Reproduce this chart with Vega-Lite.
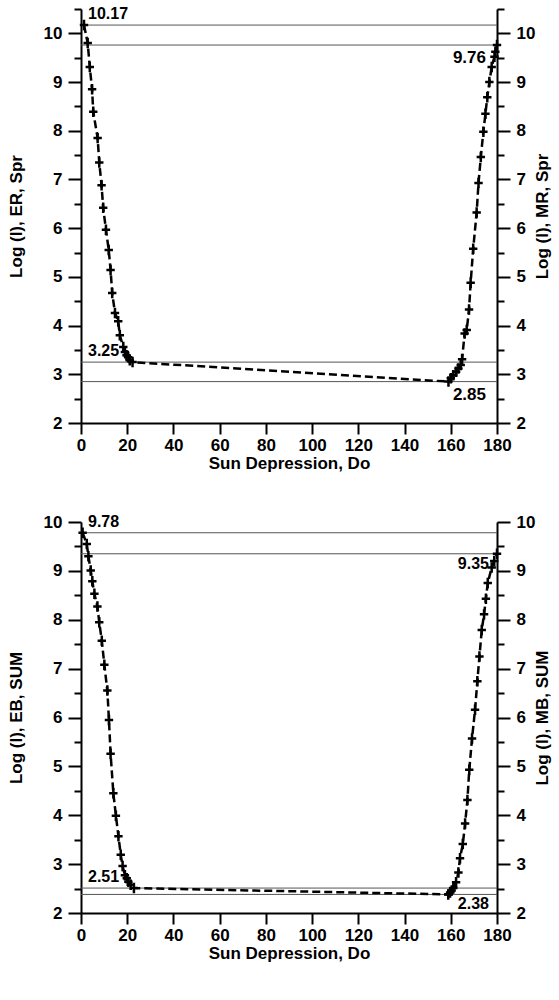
{
  "$schema": "https://vega.github.io/schema/vega-lite/v6.json",
  "padding": {"left": 7, "top": 0, "right": 7, "bottom": 5},
  "bounds": "flush",
  "spacing": 99,
  "config": {
    "view": {"stroke": null},
    "axis": {
      "grid": false,
      "domainColor": "#000",
      "domainWidth": 2,
      "tickColor": "#000",
      "tickWidth": 2,
      "labelFont": "Liberation Sans",
      "labelFontWeight": "bold",
      "labelFontSize": 17,
      "labelColor": "#000",
      "labelPadding": 6,
      "labelFlush": false,
      "labelOverlap": false,
      "titleFont": "Liberation Sans",
      "titleFontWeight": "bold",
      "titleFontSize": 17,
      "titleColor": "#000"
    }
  },
  "datasets": {
    "spr": [
      {"branch": "ER", "d": 1.3, "logI": 10.17},
      {"branch": "ER", "d": 2.9, "logI": 9.80},
      {"branch": "ER", "d": 3.8, "logI": 9.31},
      {"branch": "ER", "d": 4.8, "logI": 8.85},
      {"branch": "ER", "d": 5.3, "logI": 8.39},
      {"branch": "ER", "d": 7.2, "logI": 7.85},
      {"branch": "ER", "d": 7.9, "logI": 7.35},
      {"branch": "ER", "d": 8.9, "logI": 6.88},
      {"branch": "ER", "d": 9.6, "logI": 6.42},
      {"branch": "ER", "d": 10.8, "logI": 5.97},
      {"branch": "ER", "d": 12.0, "logI": 5.55},
      {"branch": "ER", "d": 12.8, "logI": 5.14},
      {"branch": "ER", "d": 13.5, "logI": 4.67},
      {"branch": "ER", "d": 14.7, "logI": 4.26},
      {"branch": "ER", "d": 16.1, "logI": 4.09},
      {"branch": "ER", "d": 16.8, "logI": 3.80},
      {"branch": "ER", "d": 18.3, "logI": 3.56},
      {"branch": "ER", "d": 19.0, "logI": 3.46},
      {"branch": "ER", "d": 19.7, "logI": 3.39},
      {"branch": "ER", "d": 20.4, "logI": 3.35},
      {"branch": "ER", "d": 21.1, "logI": 3.29},
      {"branch": "ER", "d": 22.3, "logI": 3.25},
      {"branch": "MR", "d": 159.0, "logI": 2.85},
      {"branch": "MR", "d": 160.0, "logI": 2.92},
      {"branch": "MR", "d": 161.1, "logI": 2.98},
      {"branch": "MR", "d": 162.3, "logI": 3.05},
      {"branch": "MR", "d": 163.3, "logI": 3.12},
      {"branch": "MR", "d": 164.3, "logI": 3.19},
      {"branch": "MR", "d": 164.9, "logI": 3.31},
      {"branch": "MR", "d": 166.0, "logI": 3.84},
      {"branch": "MR", "d": 166.9, "logI": 3.91},
      {"branch": "MR", "d": 167.9, "logI": 4.33},
      {"branch": "MR", "d": 168.6, "logI": 4.88},
      {"branch": "MR", "d": 169.7, "logI": 5.58},
      {"branch": "MR", "d": 171.2, "logI": 6.32},
      {"branch": "MR", "d": 172.0, "logI": 6.93},
      {"branch": "MR", "d": 173.0, "logI": 7.46},
      {"branch": "MR", "d": 174.1, "logI": 7.98},
      {"branch": "MR", "d": 175.0, "logI": 8.35},
      {"branch": "MR", "d": 175.8, "logI": 8.69},
      {"branch": "MR", "d": 176.7, "logI": 9.00},
      {"branch": "MR", "d": 177.7, "logI": 9.31},
      {"branch": "MR", "d": 178.9, "logI": 9.52},
      {"branch": "MR", "d": 179.3, "logI": 9.62},
      {"branch": "MR", "d": 180.0, "logI": 9.76}
    ],
    "sum": [
      {"branch": "EB", "d": 0.7, "logI": 9.78},
      {"branch": "EB", "d": 2.5, "logI": 9.55},
      {"branch": "EB", "d": 3.2, "logI": 9.30},
      {"branch": "EB", "d": 4.2, "logI": 9.01},
      {"branch": "EB", "d": 4.9, "logI": 8.79},
      {"branch": "EB", "d": 5.8, "logI": 8.53},
      {"branch": "EB", "d": 7.1, "logI": 8.27},
      {"branch": "EB", "d": 7.9, "logI": 7.95},
      {"branch": "EB", "d": 9.0, "logI": 7.57},
      {"branch": "EB", "d": 10.1, "logI": 7.08},
      {"branch": "EB", "d": 11.4, "logI": 6.55},
      {"branch": "EB", "d": 12.1, "logI": 5.95},
      {"branch": "EB", "d": 12.8, "logI": 5.26},
      {"branch": "EB", "d": 14.0, "logI": 4.45},
      {"branch": "EB", "d": 15.1, "logI": 3.99},
      {"branch": "EB", "d": 16.2, "logI": 3.57},
      {"branch": "EB", "d": 17.2, "logI": 3.19},
      {"branch": "EB", "d": 18.0, "logI": 2.96},
      {"branch": "EB", "d": 19.0, "logI": 2.77},
      {"branch": "EB", "d": 19.8, "logI": 2.71},
      {"branch": "EB", "d": 20.5, "logI": 2.64},
      {"branch": "EB", "d": 21.5, "logI": 2.58},
      {"branch": "EB", "d": 22.9, "logI": 2.51},
      {"branch": "MB", "d": 158.9, "logI": 2.38},
      {"branch": "MB", "d": 159.7, "logI": 2.42},
      {"branch": "MB", "d": 160.4, "logI": 2.46},
      {"branch": "MB", "d": 161.1, "logI": 2.51},
      {"branch": "MB", "d": 162.3, "logI": 2.63},
      {"branch": "MB", "d": 163.3, "logI": 2.83},
      {"branch": "MB", "d": 164.0, "logI": 3.12},
      {"branch": "MB", "d": 165.2, "logI": 3.41},
      {"branch": "MB", "d": 166.2, "logI": 3.83},
      {"branch": "MB", "d": 167.2, "logI": 4.31},
      {"branch": "MB", "d": 168.0, "logI": 4.93},
      {"branch": "MB", "d": 169.2, "logI": 5.57},
      {"branch": "MB", "d": 170.5, "logI": 6.16},
      {"branch": "MB", "d": 171.5, "logI": 6.74},
      {"branch": "MB", "d": 172.4, "logI": 7.25},
      {"branch": "MB", "d": 173.4, "logI": 7.79},
      {"branch": "MB", "d": 174.4, "logI": 8.11},
      {"branch": "MB", "d": 175.2, "logI": 8.43},
      {"branch": "MB", "d": 176.0, "logI": 8.75},
      {"branch": "MB", "d": 177.7, "logI": 9.07},
      {"branch": "MB", "d": 178.8, "logI": 9.20},
      {"branch": "MB", "d": 180.0, "logI": 9.35}
    ],
    "spr_levels": [
      {"branch": "E", "kind": "max", "value": 10.17},
      {"branch": "M", "kind": "max", "value": 9.76},
      {"branch": "E", "kind": "min", "value": 3.25},
      {"branch": "M", "kind": "min", "value": 2.85}
    ],
    "sum_levels": [
      {"branch": "E", "kind": "max", "value": 9.78},
      {"branch": "M", "kind": "max", "value": 9.35},
      {"branch": "E", "kind": "min", "value": 2.51},
      {"branch": "M", "kind": "min", "value": 2.38}
    ]
  },
  "vconcat": [
    {
      "width": 416,
      "height": 414,
      "resolve": {"axis": {"y": "independent"}},
      "layer": [
        {
          "data": {"name": "spr_levels"},
          "mark": {"type": "rule", "stroke": "#555", "strokeWidth": 1},
          "encoding": {
            "y": {
              "field": "value", "type": "quantitative",
              "scale": {"domain": [2, 10.5], "nice": false, "zero": false},
              "axis": {
                "orient": "right", "title": "Log (I), MR, Spr", "titlePadding": 0,
                "titleAngle": -90, "titleBaseline": "top",
                "values": [2, 2.5, 3, 3.5, 4, 4.5, 5, 5.5, 6, 6.5, 7, 7.5, 8, 8.5, 9, 9.5, 10, 10.5],
                "labelExpr": "datum.value % 1 === 0 ? format(datum.value, 'd') : ''",
                "tickSize": {"condition": {"test": "datum.value % 1 === 0", "value": 13}, "value": 7}
              }
            }
          }
        },
        {
          "data": {"name": "spr"},
          "mark": {"type": "line", "color": "#000", "strokeWidth": 2.5, "strokeDash": [8, 4]},
          "encoding": {
            "x": {
              "field": "d", "type": "quantitative",
              "scale": {"domain": [0, 180], "nice": false, "zero": false},
              "axis": {
                "title": "Sun Depression, Do", "titlePadding": 2, "labelPadding": 3,
                "values": [0, 10, 20, 30, 40, 50, 60, 70, 80, 90, 100, 110, 120, 130, 140, 150, 160, 170, 180],
                "labelExpr": "datum.value % 20 === 0 ? datum.label : ''",
                "tickSize": {"condition": {"test": "datum.value % 20 === 0", "value": 11}, "value": 6}
              }
            },
            "y": {
              "field": "logI", "type": "quantitative",
              "scale": {"domain": [2, 10.5], "nice": false, "zero": false},
              "axis": {
                "orient": "left", "title": "Log (I), ER, Spr", "titlePadding": 18,
                "values": [2, 2.5, 3, 3.5, 4, 4.5, 5, 5.5, 6, 6.5, 7, 7.5, 8, 8.5, 9, 9.5, 10, 10.5],
                "labelExpr": "datum.value % 1 === 0 ? format(datum.value, 'd') : ''",
                "tickSize": {"condition": {"test": "datum.value % 1 === 0", "value": 13}, "value": 7}
              }
            }
          }
        },
        {
          "data": {"name": "spr"},
          "mark": {"type": "point", "shape": "M-0.8,0H0.8M0,-1V1", "size": 110, "filled": false, "stroke": "#000", "strokeWidth": 2.5, "opacity": 1},
          "encoding": {
            "x": {"field": "d", "type": "quantitative", "scale": {"domain": [0, 180], "nice": false, "zero": false}},
            "y": {"field": "logI", "type": "quantitative", "scale": {"domain": [2, 10.5], "nice": false, "zero": false}, "axis": null}
          }
        },
        {
          "data": {"name": "spr_levels"},
          "transform": [{"filter": "datum.branch === 'E'"}],
          "mark": {"type": "text", "align": "left", "baseline": "bottom", "dx": 7, "dy": -3, "font": "Liberation Sans", "fontWeight": "bold", "fontSize": 16, "color": "#000"},
          "encoding": {
            "x": {"datum": 0, "type": "quantitative", "scale": {"domain": [0, 180], "nice": false, "zero": false}},
            "y": {"field": "value", "type": "quantitative", "scale": {"domain": [2, 10.5], "nice": false, "zero": false}, "axis": null},
            "text": {"field": "value", "type": "quantitative", "format": ".2f"}
          }
        },
        {
          "data": {"name": "spr_levels"},
          "transform": [{"filter": "datum.branch === 'M'"}],
          "mark": {"type": "text", "align": "right", "baseline": "top", "dx": -11, "dy": 5, "font": "Liberation Sans", "fontWeight": "bold", "fontSize": 17, "color": "#000"},
          "encoding": {
            "x": {"datum": 180, "type": "quantitative", "scale": {"domain": [0, 180], "nice": false, "zero": false}},
            "y": {"field": "value", "type": "quantitative", "scale": {"domain": [2, 10.5], "nice": false, "zero": false}, "axis": null},
            "text": {"field": "value", "type": "quantitative", "format": ".2f"}
          }
        }
      ]
    },
    {
      "width": 416,
      "height": 391,
      "resolve": {"axis": {"y": "independent"}},
      "layer": [
        {
          "data": {"name": "sum_levels"},
          "mark": {"type": "rule", "stroke": "#555", "strokeWidth": 1},
          "encoding": {
            "y": {
              "field": "value", "type": "quantitative",
              "scale": {"domain": [2, 10], "nice": false, "zero": false},
              "axis": {
                "orient": "right", "title": "Log (I), MB, SUM", "titlePadding": 0,
                "titleAngle": -90, "titleBaseline": "top",
                "values": [2, 2.5, 3, 3.5, 4, 4.5, 5, 5.5, 6, 6.5, 7, 7.5, 8, 8.5, 9, 9.5, 10],
                "labelExpr": "datum.value % 1 === 0 ? format(datum.value, 'd') : ''",
                "tickSize": {"condition": {"test": "datum.value % 1 === 0", "value": 13}, "value": 7}
              }
            }
          }
        },
        {
          "data": {"name": "sum"},
          "mark": {"type": "line", "color": "#000", "strokeWidth": 2.5, "strokeDash": [8, 4]},
          "encoding": {
            "x": {
              "field": "d", "type": "quantitative",
              "scale": {"domain": [0, 180], "nice": false, "zero": false},
              "axis": {
                "title": "Sun Depression, Do", "titlePadding": 2, "labelPadding": 3,
                "values": [0, 10, 20, 30, 40, 50, 60, 70, 80, 90, 100, 110, 120, 130, 140, 150, 160, 170, 180],
                "labelExpr": "datum.value % 20 === 0 ? datum.label : ''",
                "tickSize": {"condition": {"test": "datum.value % 20 === 0", "value": 11}, "value": 6}
              }
            },
            "y": {
              "field": "logI", "type": "quantitative",
              "scale": {"domain": [2, 10], "nice": false, "zero": false},
              "axis": {
                "orient": "left", "title": "Log (I), EB, SUM", "titlePadding": 18,
                "values": [2, 2.5, 3, 3.5, 4, 4.5, 5, 5.5, 6, 6.5, 7, 7.5, 8, 8.5, 9, 9.5, 10],
                "labelExpr": "datum.value % 1 === 0 ? format(datum.value, 'd') : ''",
                "tickSize": {"condition": {"test": "datum.value % 1 === 0", "value": 13}, "value": 7}
              }
            }
          }
        },
        {
          "data": {"name": "sum"},
          "mark": {"type": "point", "shape": "M-0.8,0H0.8M0,-1V1", "size": 110, "filled": false, "stroke": "#000", "strokeWidth": 2.5, "opacity": 1},
          "encoding": {
            "x": {"field": "d", "type": "quantitative", "scale": {"domain": [0, 180], "nice": false, "zero": false}},
            "y": {"field": "logI", "type": "quantitative", "scale": {"domain": [2, 10], "nice": false, "zero": false}, "axis": null}
          }
        },
        {
          "data": {"name": "sum_levels"},
          "transform": [{"filter": "datum.branch === 'E'"}],
          "mark": {"type": "text", "align": "left", "baseline": "bottom", "dx": 7, "dy": -3, "font": "Liberation Sans", "fontWeight": "bold", "fontSize": 16, "color": "#000"},
          "encoding": {
            "x": {"datum": 0, "type": "quantitative", "scale": {"domain": [0, 180], "nice": false, "zero": false}},
            "y": {"field": "value", "type": "quantitative", "scale": {"domain": [2, 10], "nice": false, "zero": false}, "axis": null},
            "text": {"field": "value", "type": "quantitative", "format": ".2f"}
          }
        },
        {
          "data": {"name": "sum_levels"},
          "transform": [{"filter": "datum.branch === 'M'"}],
          "mark": {"type": "text", "align": "right", "baseline": "top", "dx": -8, "dy": 2, "font": "Liberation Sans", "fontWeight": "bold", "fontSize": 16, "color": "#000"},
          "encoding": {
            "x": {"datum": 180, "type": "quantitative", "scale": {"domain": [0, 180], "nice": false, "zero": false}},
            "y": {"field": "value", "type": "quantitative", "scale": {"domain": [2, 10], "nice": false, "zero": false}, "axis": null},
            "text": {"field": "value", "type": "quantitative", "format": ".2f"}
          }
        }
      ]
    }
  ]
}
